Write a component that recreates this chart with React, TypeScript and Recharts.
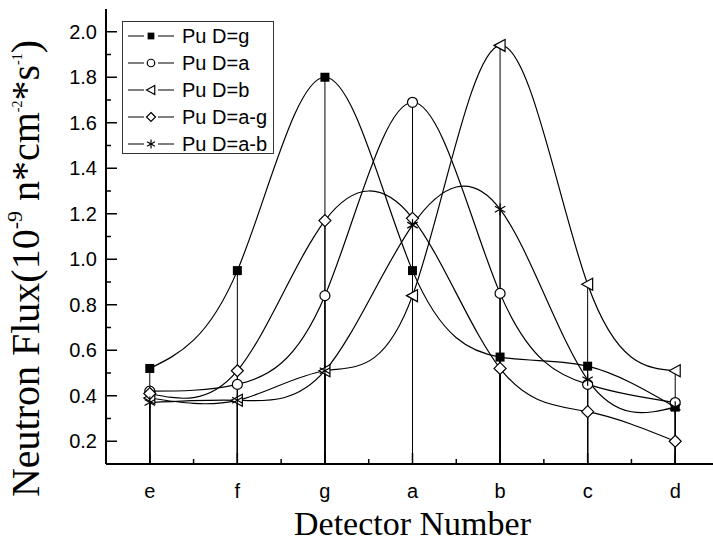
import { ComposedChart, Line, XAxis, YAxis, ErrorBar, Legend, Label } from 'recharts';

const categories = ['e', 'f', 'g', 'a', 'b', 'c', 'd'];
const puG = [0.52, 0.95, 1.8, 0.95, 0.57, 0.53, 0.35];
const puA = [0.42, 0.45, 0.84, 1.69, 0.85, 0.45, 0.37];
const puB = [0.39, 0.38, 0.51, 0.84, 1.94, 0.89, 0.51];
const puAG = [0.41, 0.51, 1.17, 1.18, 0.52, 0.33, 0.2];
const puAB = [0.37, 0.38, 0.51, 1.15, 1.22, 0.47, 0.35];

const yMajor = [0.2, 0.4, 0.6, 0.8, 1.0, 1.2, 1.4, 1.6, 1.8, 2.0];
const yMinor = [0.3, 0.5, 0.7, 0.9, 1.1, 1.3, 1.5, 1.7, 1.9];
const xMajor = [0, 1, 2, 3, 4, 5, 6];
const xMinor = [0.5, 1.5, 2.5, 3.5, 4.5, 5.5];
const yMin = 0.1;
const yMax = 2.1;

const series = [
  { key: 'g', name: 'Pu D=g', values: puG, marker: 'square' },
  { key: 'a', name: 'Pu D=a', values: puA, marker: 'circle' },
  { key: 'b', name: 'Pu D=b', values: puB, marker: 'triangle' },
  { key: 'ag', name: 'Pu D=a-g', values: puAG, marker: 'diamond' },
  { key: 'ab', name: 'Pu D=a-b', values: puAB, marker: 'star' },
];

const data = categories.map((c, i) => {
  const row: any = { x: i, cat: c };
  series.forEach((s) => {
    row[s.key] = s.values[i];
    row[s.key + 'Drop'] = [s.values[i] - yMin, 0];
  });
  return row;
});

const sans = "'Liberation Sans', Arial, sans-serif";
const serif = "'Liberation Serif', 'Times New Roman', serif";

function Marker({ kind, cx, cy, s = 1 }: { kind: string; cx: number; cy: number; s?: number }) {
  const st = { stroke: '#000', strokeWidth: 1.2 };
  if (kind === 'square')
    return <rect x={cx - 4.5 * s} y={cy - 4.5 * s} width={9 * s} height={9 * s} fill='#000' />;
  if (kind === 'circle') return <circle cx={cx} cy={cy} r={5 * s} fill='#fff' {...st} />;
  if (kind === 'triangle')
    return (
      <polygon
        points={`${cx - 6 * s},${cy} ${cx + 5 * s},${cy - 6 * s} ${cx + 5 * s},${cy + 6 * s}`}
        fill='#fff'
        {...st}
      />
    );
  if (kind === 'diamond')
    return (
      <polygon
        points={`${cx},${cy - 6 * s} ${cx + 6 * s},${cy} ${cx},${cy + 6 * s} ${cx - 6 * s},${cy}`}
        fill='#fff'
        {...st}
      />
    );
  const r = 6 * s;
  return (
    <g {...st}>
      <line x1={cx} y1={cy - r} x2={cx} y2={cy + r} />
      <line x1={cx - r * 0.87} y1={cy - r * 0.5} x2={cx + r * 0.87} y2={cy + r * 0.5} />
      <line x1={cx - r * 0.87} y1={cy + r * 0.5} x2={cx + r * 0.87} y2={cy - r * 0.5} />
    </g>
  );
}

function YTick({ x, y, payload }: any) {
  const v = payload.value;
  const major = yMajor.includes(v);
  const x0 = x + 9;
  return (
    <g>
      <line x1={x0} x2={x0 + (major ? 11 : 5)} y1={y} y2={y} stroke='#000' strokeWidth={1.5} />
      {major && (
        <text x={x} y={y} dy={7} textAnchor='end' fontFamily={sans} fontSize={20} fill='#000'>
          {v.toFixed(1)}
        </text>
      )}
    </g>
  );
}

function XTick({ x, y, payload }: any) {
  const v = payload.value;
  const major = xMajor.includes(v);
  const y0 = y - 12;
  return (
    <g>
      <line x1={x} x2={x} y1={y0} y2={y0 - (major ? 11 : 5)} stroke='#000' strokeWidth={1.5} />
      {major && (
        <text x={x} y={y} dy={22} textAnchor='middle' fontFamily={sans} fontSize={20} fill='#000'>
          {categories[v]}
        </text>
      )}
    </g>
  );
}

function YTitle({ viewBox }: any) {
  const cx = viewBox.x + 39;
  const cy = viewBox.y + viewBox.height / 2 + 32;
  return (
    <text
      transform={`translate(${cx},${cy}) rotate(-90)`}
      textAnchor='middle'
      fontFamily={serif}
      fontSize={40}
      fill='#000'
    >
      <tspan>Neutron Flux(10</tspan>
      <tspan dy={-17} fontSize={22}>-9</tspan>
      <tspan dy={17}>{'\u00a0n*cm'}</tspan>
      <tspan dy={-17} fontSize={14}>-2</tspan>
      <tspan dy={17}>*s</tspan>
      <tspan dy={-17} fontSize={14}>-1</tspan>
      <tspan dy={17}>)</tspan>
    </text>
  );
}

function XTitle({ viewBox }: any) {
  return (
    <text
      x={viewBox.x + viewBox.width / 2}
      y={viewBox.y + 71}
      textAnchor='middle'
      fontFamily={serif}
      fontSize={34}
      fill='#000'
    >
      Detector Number
    </text>
  );
}

function LegendBox() {
  return (
    <div
      style={{
        border: '1px solid #333',
        background: '#fff',
        width: 152,
        height: 133,
        boxSizing: 'border-box',
        padding: '0 0 0 4px',
      }}
    >
      {series.map((s) => (
        <div key={s.key} style={{ display: 'flex', alignItems: 'center', height: 27 }}>
          <svg width={52} height={20}>
            <line x1={1} x2={47} y1={10} y2={10} stroke='#000' strokeWidth={1.2} />
            <rect x={17} y={3} width={14} height={14} fill='#fff' />
            <Marker kind={s.marker} cx={24} cy={10} s={0.75} />
          </svg>
          <span style={{ fontFamily: sans, fontSize: 20, marginLeft: 3, lineHeight: '20px' }}>
            {s.name}
          </span>
        </div>
      ))}
    </div>
  );
}

export default function App() {
  return (
    <div
      style={{
        position: 'absolute',
        left: 0,
        top: 0,
        width: 713,
        height: 545,
        overflow: 'hidden',
        background: '#fff',
      }}
    >
      <ComposedChart width={730} height={545} data={data} margin={{ top: 9, right: 11, bottom: 0, left: 0 }}>
        <XAxis
          dataKey='x'
          type='number'
          domain={[-0.5, 6.5]}
          ticks={[...xMajor, ...xMinor]}
          interval={0}
          tick={<XTick />}
          tickLine={false}
          tickSize={0}
          tickMargin={12}
          height={81}
          axisLine={{ stroke: '#000', strokeWidth: 2 }}
          allowDataOverflow
        >
          <Label content={XTitle} />
        </XAxis>
        <XAxis
          xAxisId='top'
          orientation='top'
          dataKey='x'
          type='number'
          domain={[-0.5, 6.5]}
          height={0}
          tick={false}
          tickLine={false}
          axisLine={{ stroke: '#000', strokeWidth: 2 }}
        />
        <YAxis
          type='number'
          domain={[yMin, yMax]}
          ticks={[...yMajor, ...yMinor]}
          interval={0}
          tick={<YTick />}
          tickLine={false}
          tickSize={0}
          tickMargin={9}
          width={106}
          axisLine={{ stroke: '#000', strokeWidth: 2 }}
          allowDataOverflow
        >
          <Label content={YTitle} />
        </YAxis>
        {series.map((s) => (
          <Line
            key={s.key}
            dataKey={s.key}
            name={s.name}
            type='natural'
            stroke='#000'
            strokeWidth={1.2}
            isAnimationActive={false}
            dot={(p: any) => <Marker key={`${s.key}-${p.index}`} kind={s.marker} cx={p.cx} cy={p.cy} />}
            activeDot={false}
          >
            <ErrorBar dataKey={s.key + 'Drop'} width={0} direction='y' stroke='#000' strokeWidth={1} />
          </Line>
        ))}
        <Legend
          layout='vertical'
          align='center'
          verticalAlign='middle'
          content={() => <LegendBox />}
          wrapperStyle={{ left: 122, top: 21, width: 152, height: 133 }}
        />
      </ComposedChart>
    </div>
  );
}
